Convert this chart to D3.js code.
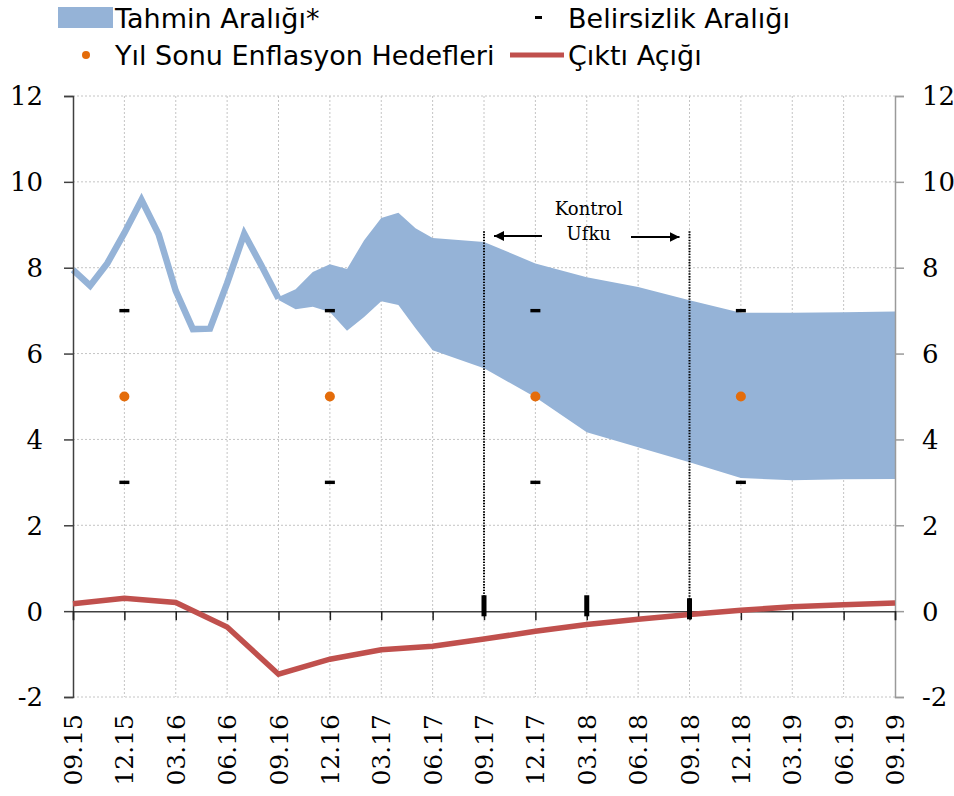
<!DOCTYPE html>
<html><head><meta charset="utf-8">
<script src="https://cdn.jsdelivr.net/npm/d3@7"></script>
<style>body{margin:0;background:#fff}svg{display:block}</style>
</head><body><svg id="c" width="954" height="796"></svg>
<script>
// ---- data ----
const quarterLabels = ["09.15","12.15","03.16","06.16","09.16","12.16","03.17","06.17","09.17","12.17","03.18","06.18","09.18","12.18","03.19","06.19","09.19"];
const yTicks = [-2,0,2,4,6,8,10,12];
// realised inflation, monthly, Sep15..Sep16 (month index 0..12)
const inflMonths = [0,1,2,3,4,5,6,7,8,9,10,11,12];
const inflation = [7.95,7.58,8.10,8.81,9.58,8.78,7.46,6.57,6.58,7.64,8.79,8.05,7.28];
// forecast range
const bandMonths = [12,13,14,15,16,17,18,19,20,21,24,27,30,33,36,39,42,45,48];
const bandUpper = [7.32,7.50,7.90,8.08,7.97,8.64,9.16,9.28,8.92,8.69,8.60,8.10,7.78,7.55,7.24,6.95,6.95,6.96,6.98];
const bandLower = [7.25,7.03,7.09,6.97,6.53,6.85,7.22,7.13,6.59,6.08,5.66,4.98,4.17,3.82,3.47,3.10,3.05,3.07,3.08];
// year-end targets and uncertainty band
const targetMonths = [3,15,27,39];
const targets = [5,5,5,5];
const uncUpper = [7,7,7,7];
const uncLower = [3,3,3,3];
// output gap, quarterly
const gapMonths = [0,3,6,9,12,15,18,21,24,27,30,33,36,39,42,45,48];
const outputGap = [0.17,0.30,0.20,-0.37,-1.47,-1.12,-0.90,-0.82,-0.65,-0.47,-0.31,-0.19,-0.08,0.02,0.10,0.15,0.19];
// control horizon markers
const horizonMonths = [24,36];
const horizonTop = [8.85,8.85];
const barMonths = [24,30,36];
const barTop = [0.37,0.37,0.30];
const barBottom = [-0.12,-0.12,-0.19];

// ---- layout ----
const svg = d3.select("#c");
const x = d3.scaleLinear().domain([0,48]).range([73,895]);
const y = d3.scaleLinear().domain([-2,12]).range([697,96]);
const serif = "'DejaVu Serif', serif";
const sans = "'DejaVu Sans', sans-serif";
const quarterMonths = quarterLabels.map((d,i)=>i*3);

// grid
const g = svg.append("g");
g.selectAll(".hg").data(yTicks.filter(d=>d!==0)).join("line")
  .attr("x1",x(0)).attr("x2",x(48)).attr("y1",d=>y(d)).attr("y2",d=>y(d))
  .attr("stroke","#c4c4c4").attr("stroke-width",1).attr("stroke-dasharray","2,2");
g.selectAll(".vg").data(quarterMonths.slice(1,-1)).join("line")
  .attr("x1",d=>x(d)).attr("x2",d=>x(d)).attr("y1",y(12)).attr("y2",y(-2))
  .attr("stroke","#c4c4c4").attr("stroke-width",1).attr("stroke-dasharray","2,2");

// band
const bandData = bandMonths.map((m,i)=>({m,u:bandUpper[i],l:bandLower[i]}));
svg.append("path").datum(bandData)
  .attr("d",d3.area().x(d=>x(d.m)).y0(d=>y(d.l)).y1(d=>y(d.u)))
  .attr("fill","#95B3D7");

// inflation line
svg.append("path").datum(inflMonths.map((m,i)=>[m,inflation[i]]))
  .attr("d",d3.line().x(d=>x(d[0])).y(d=>y(d[1])))
  .attr("fill","none").attr("stroke","#95B3D7").attr("stroke-width",6.5).attr("stroke-linejoin","miter");

// axes
const leftAxis = d3.axisLeft(y).tickValues(yTicks).tickSize(9).tickFormat("");
const la = svg.append("g").attr("transform",`translate(${x(0)},0)`).call(leftAxis);
la.select(".domain").attr("stroke","#404040").attr("stroke-width",1.5);
la.selectAll(".tick line").attr("stroke","#404040").attr("stroke-width",1.5);
const rightAxis = d3.axisRight(y).tickValues(yTicks).tickSize(9).tickFormat("");
const ra = svg.append("g").attr("transform",`translate(${x(48)},0)`).call(rightAxis);
ra.select(".domain").attr("stroke","#9a9a9a").attr("stroke-width",1.5);
ra.selectAll(".tick line").attr("stroke","#9a9a9a").attr("stroke-width",1.5);
const bottomAxis = d3.axisBottom(x).tickValues(quarterMonths).tickSize(9).tickFormat("");
const ba = svg.append("g").attr("transform",`translate(0,${y(0)})`).call(bottomAxis);
ba.select(".domain").attr("stroke","#404040").attr("stroke-width",1.5);
ba.selectAll(".tick line").attr("stroke","#202020").attr("stroke-width",1.5);

// y labels
svg.selectAll(".yl").data(yTicks).join("text")
  .attr("x",43).attr("y",d=>y(d)).attr("dy","0.36em").attr("text-anchor","end")
  .attr("font-family",serif).attr("font-size",26).attr("fill","#000").text(d=>d);
svg.selectAll(".yr").data(yTicks).join("text")
  .attr("x",922).attr("y",d=>y(d)).attr("dy","0.36em").attr("text-anchor","start")
  .attr("font-family",serif).attr("font-size",26).attr("fill","#000").text(d=>d);
// x labels
svg.selectAll(".xl").data(quarterLabels).join("text")
  .attr("transform",(d,i)=>`translate(${x(quarterMonths[i])},714) rotate(-90)`)
  .attr("dy","0.36em").attr("text-anchor","end")
  .attr("font-family",serif).attr("font-size",25).attr("fill","#000").text(d=>d);

// output gap
svg.append("path").datum(gapMonths.map((m,i)=>[m,outputGap[i]]))
  .attr("d",d3.line().x(d=>x(d[0])).y(d=>y(d[1])))
  .attr("fill","none").attr("stroke","#C0504D").attr("stroke-width",5.5);

// control horizon dotted lines
svg.selectAll(".hz").data(horizonMonths).join("line")
  .attr("x1",d=>x(d)).attr("x2",d=>x(d)).attr("y1",(d,i)=>y(horizonTop[i])).attr("y2",y(0))
  .attr("stroke","#000").attr("stroke-width",2).attr("stroke-dasharray","1.4,1.4");
svg.selectAll(".bar").data(barMonths).join("rect")
  .attr("x",d=>x(d)-2.5).attr("width",5)
  .attr("y",(d,i)=>y(barTop[i])).attr("height",(d,i)=>y(barBottom[i])-y(barTop[i]))
  .attr("fill","#000");

// uncertainty dashes
svg.selectAll(".uu").data(targetMonths.flatMap((m,i)=>[[m,uncUpper[i]],[m,uncLower[i]]])).join("rect")
  .attr("x",d=>x(d[0])-5).attr("y",d=>y(d[1])-1.7).attr("width",10).attr("height",3.4).attr("fill","#000");
// targets
svg.selectAll(".tg").data(targetMonths).join("circle")
  .attr("cx",d=>x(d)).attr("cy",(d,i)=>y(targets[i])).attr("r",5).attr("fill","#E46C0A");

// Kontrol Ufku annotation
const mid = (x(24)+x(36))/2 + 2;
svg.append("text").attr("x",mid).attr("y",215).attr("text-anchor","middle")
  .attr("font-family",serif).attr("font-size",18).text("Kontrol");
svg.append("text").attr("x",mid).attr("y",240).attr("text-anchor","middle")
  .attr("font-family",serif).attr("font-size",18).text("Ufku");
const defs = svg.append("defs");
defs.append("marker").attr("id","ah").attr("viewBox","0 0 10 10").attr("refX",10).attr("refY",5)
  .attr("markerWidth",5).attr("markerHeight",5).attr("orient","auto-start-reverse").attr("markerUnits","strokeWidth")
  .append("path").attr("d","M0,0L10,5L0,10Z").attr("fill","#000");
svg.append("line").attr("x1",542).attr("x2",x(24)+10).attr("y1",236).attr("y2",236)
  .attr("stroke","#000").attr("stroke-width",2).attr("marker-end","url(#ah)");
svg.append("line").attr("x1",631).attr("x2",x(36)-10).attr("y1",237).attr("y2",237)
  .attr("stroke","#000").attr("stroke-width",2).attr("marker-end","url(#ah)");

// legend
const lg = svg.append("g").attr("font-family",sans).attr("font-size",27).attr("fill","#000");
lg.append("rect").attr("x",58).attr("y",7).attr("width",55).attr("height",21).attr("fill","#95B3D7");
lg.append("text").attr("x",115).attr("y",28).text("Tahmin Aralığı*");
lg.append("rect").attr("x",535).attr("y",16).attr("width",7).attr("height",3).attr("fill","#000");
lg.append("text").attr("x",568).attr("y",28).text("Belirsizlik Aralığı");
lg.append("circle").attr("cx",86).attr("cy",55).attr("r",4).attr("fill","#E46C0A");
lg.append("text").attr("x",115).attr("y",65).text("Yıl Sonu Enflasyon Hedefleri");
lg.append("line").attr("x1",510).attr("x2",564).attr("y1",55).attr("y2",55).attr("stroke","#C0504D").attr("stroke-width",5);
lg.append("text").attr("x",568).attr("y",65).text("Çıktı Açığı");
</script></body></html>
